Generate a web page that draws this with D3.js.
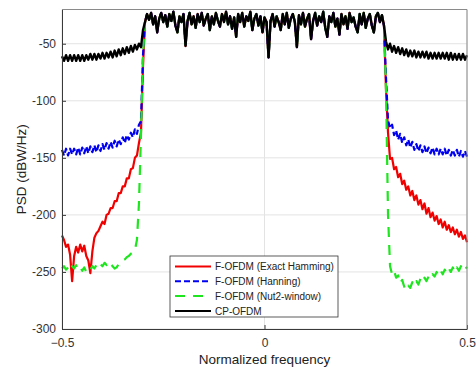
<!DOCTYPE html>
<html>
<head>
<meta charset="utf-8">
<script src="https://cdn.jsdelivr.net/npm/d3@7/dist/d3.min.js"></script>
<style>
  body { margin: 0; background: #fff; }
  svg { display: block; font-family: "Liberation Sans", Arial, sans-serif; }
</style>
</head>
<body>
<div id="app"></div>
<script>
// frequency grid: -0.5 .. 0.5, step 0.005 (201 samples)
// left skirt = samples 0..40, in-band = 41..159, right skirt = 160..200
const xTicks = [-0.5, 0, 0.5];
const yTicks = [-300, -250, -200, -150, -100, -50];

const inband = [
  -31, -24, -29, -23, -33, -26, -40, -28, -23, -31,
  -25, -35, -24, -30, -22, -34, -40, -26, -31, -24,
  -52, -30, -23, -33, -26, -36, -24, -31, -23, -34,
  -28, -24, -38, -26, -33, -23, -30, -35, -24, -31,
  -22, -33, -26, -37, -27, -44, -24, -31, -23, -35,
  -26, -30, -22, -38, -28, -24, -34, -26, -40, -27,
  -31, -62, -30, -24, -35, -26, -31, -38, -24, -33,
  -23, -36, -28, -24, -31, -53, -25, -33, -23, -35,
  -28, -24, -46, -30, -23, -34, -26, -31, -22, -36,
  -44, -26, -31, -23, -35, -28, -42, -24, -33, -26,
  -37, -23, -31, -27, -35, -40, -24, -33, -23, -36,
  -28, -24, -34, -40, -26, -23, -31, -25, -34
];

const hammingLeft = [
  -218, -222, -228, -226, -235, -258, -236, -228, -233, -226,
  -232, -227, -236, -240, -251, -232, -220, -216, -214, -210,
  -206, -208, -200, -199, -194, -194, -188, -188, -181, -181,
  -175, -175, -168, -168, -160, -159, -150, -148, -137, -128, -70
];
const hammingRight = [
  -90, -128, -151, -150, -160, -158, -167, -164, -173, -170,
  -178, -175, -183, -179, -187, -183, -191, -187, -195, -190,
  -199, -194, -202, -198, -205, -201, -208, -204, -211, -206,
  -213, -209, -215, -211, -217, -213, -219, -215, -221, -218, -224
];

const hanningLeft = [
  -143, -148, -142, -148, -142, -147, -142, -147, -141, -147,
  -141, -146, -140, -146, -140, -145, -139, -145, -139, -144,
  -138, -143, -137, -142, -136, -141, -135, -140, -134, -138,
  -132, -137, -130, -134, -128, -132, -125, -129, -121, -118, -60
];
const hanningRight = [
  -80, -117, -124, -121, -130, -126, -134, -129, -137, -132,
  -139, -134, -141, -136, -143, -138, -144, -139, -145, -140,
  -146, -141, -146, -141, -147, -142, -147, -142, -147, -142,
  -148, -143, -148, -143, -148, -143, -149, -144, -149, -144, -149
];

const nut2Left = [
  -247, -245, -248, -246, -249, -245, -247, -244, -248, -246,
  -249, -246, -250, -247, -248, -245, -247, -244, -246, -243,
  -245, -242, -244, -241, -243, -245, -247, -246, -243, -241,
  -240, -239, -237, -236, -234, -233, -231, -222, -190, -130, -60
];
const nut2Right = [
  -90, -200, -245, -252, -249, -255, -253, -260, -257, -263,
  -266, -262, -264, -259, -262, -258, -261, -256, -259, -255,
  -258, -254, -256, -252, -254, -250, -253, -249, -252, -248,
  -251, -247, -250, -246, -250, -246, -249, -245, -248, -245, -247
];

const cpLeft = [
  -61, -65, -60, -65, -60, -65, -60, -65, -60, -65,
  -60, -65, -60, -64, -59, -64, -59, -64, -59, -63,
  -58, -63, -58, -62, -57, -62, -56, -61, -55, -60,
  -54, -59, -53, -58, -52, -57, -51, -55, -50, -53, -38
];
const cpRight = [
  -48, -55, -50, -57, -52, -58, -53, -59, -54, -60,
  -55, -61, -56, -61, -56, -62, -57, -62, -57, -62,
  -57, -63, -58, -63, -58, -63, -58, -63, -58, -63,
  -58, -64, -58, -64, -59, -64, -59, -64, -59, -64, -60
];

const names = ["F-OFDM (Exact Hamming)", "F-OFDM (Hanning)", "F-OFDM (Nut2-window)", "CP-OFDM"];
const colors = ["#f20000", "#0000f0", "#1ee61e", "#000000"];
const dashes = [null, "6,3", "10,8", null];
const widths = [2.2, 2.2, 2.2, 2.4];
const skirts = [
  [hammingLeft, hammingRight],
  [hanningLeft, hanningRight],
  [nut2Left, nut2Right],
  [cpLeft, cpRight]
];

const W = 476, H = 369;
const m = { left: 62, right: 9, top: 9.5, bottom: 40 };
const iw = W - m.left - m.right, ih = H - m.top - m.bottom;

const svg = d3.select("#app").append("svg").attr("width", W).attr("height", H);
const g = svg.append("g").attr("transform", `translate(${m.left},${m.top})`);

const x = d3.scaleLinear().domain([-0.5, 0.5]).range([0, iw]);
const y = d3.scaleLinear().domain([-300, -20]).range([ih, 0]);

// grid
g.append("g").selectAll("line").data(yTicks).join("line")
  .attr("x1", 0).attr("x2", iw)
  .attr("y1", d => y(d)).attr("y2", d => y(d))
  .attr("stroke", "#e3e3e3").attr("stroke-width", 1);
g.append("g").selectAll("line").data(xTicks).join("line")
  .attr("x1", d => x(d)).attr("x2", d => x(d))
  .attr("y1", 0).attr("y2", ih)
  .attr("stroke", "#e3e3e3").attr("stroke-width", 1);

const freq = d3.range(201).map(i => -0.5 + i * 0.005);

const line = d3.line().x((d, i) => x(freq[i])).y(d => y(d));

skirts.forEach((s, k) => {
  const vals = s[0].concat(inband, s[1]);
  g.append("path")
    .datum(vals)
    .attr("d", line)
    .attr("fill", "none")
    .attr("stroke", colors[k])
    .attr("stroke-width", widths[k])
    .attr("stroke-dasharray", dashes[k])
    .attr("stroke-linejoin", "round");
});

// axes
const axisColor = "#3a3a3a";
const xAxis = g.append("g").attr("transform", `translate(0,${ih})`)
  .call(d3.axisBottom(x).tickValues(xTicks).tickSizeInner(-4).tickSizeOuter(0).tickPadding(9));
const yAxis = g.append("g")
  .call(d3.axisLeft(y).tickValues(yTicks).tickFormat(d => d).tickSizeInner(-4).tickSizeOuter(0).tickPadding(6));
xAxis.selectAll("text").text(d => d === 0 ? "0" : d3.format(".1f")(d));
[xAxis, yAxis].forEach(a => {
  a.select(".domain").attr("stroke", axisColor);
  a.selectAll(".tick line").attr("stroke", axisColor);
  a.selectAll("text").attr("fill", "#333").style("font-size", "12px")
    .style("font-family", '"Liberation Sans", Arial, sans-serif');
});
// top and right box lines
g.append("line").attr("x1", 0).attr("x2", iw).attr("y1", 0).attr("y2", 0).attr("stroke", "#8a8a8a");
g.append("line").attr("x1", iw).attr("x2", iw).attr("y1", 0).attr("y2", ih).attr("stroke", "#8a8a8a");

// axis labels
svg.append("text")
  .attr("x", m.left + iw / 2).attr("y", 364)
  .attr("text-anchor", "middle").attr("fill", "#222")
  .style("font-size", "13.5px")
  .text("Normalized frequency");
svg.append("text")
  .attr("transform", `translate(26,${m.top + ih / 2}) rotate(-90)`)
  .attr("text-anchor", "middle").attr("fill", "#222")
  .style("font-size", "13.5px")
  .text("PSD (dBW/Hz)");

// legend
const lg = svg.append("g").attr("transform", "translate(170,256)");
lg.append("rect").attr("width", 168).attr("height", 61)
  .attr("fill", "#fff").attr("stroke", "#333").attr("stroke-width", 0.8);
names.forEach((n, k) => {
  const yy = 10.5 + k * 14.8;
  lg.append("line")
    .attr("x1", 5).attr("x2", 41).attr("y1", yy).attr("y2", yy)
    .attr("stroke", colors[k]).attr("stroke-width", 2)
    .attr("stroke-dasharray", dashes[k]);
  lg.append("text")
    .attr("x", 45).attr("y", yy + 3.6)
    .attr("fill", "#222").style("font-size", "10px")
    .text(n);
});
</script>
</body>
</html>
